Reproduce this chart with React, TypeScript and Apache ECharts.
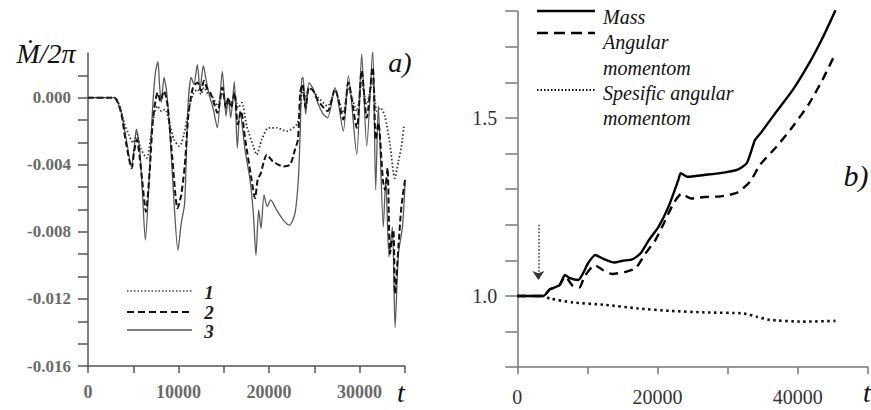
import React, { useEffect, useRef } from "react";
import * as echarts from "echarts";

// ---------- Panel a) data : [t, Mdot/2pi] ----------
const curve1Dotted: [number, number][] = [
  [0, 0], [3000, 0], [3500, -0.0005], [4000, -0.0015], [4500, -0.0022], [5000, -0.0027], [5400, -0.0022],
  [5800, -0.003], [6480, -0.0036], [6900, -0.0025], [7300, -0.001], [7700, -0.0005], [8100, -0.0008],
  [8500, -0.0007], [9000, -0.0015], [9500, -0.0025], [10100, -0.0029], [10600, -0.0022], [11100, -0.0008],
  [11600, 0.0002], [12100, 0.0005], [12500, 0.0002], [12800, 0.0006], [13300, 0.0002], [13800, 0.0],
  [14300, -0.0005], [14850, 0.0003], [15300, -0.0003], [15800, -0.0003], [16200, 0.0], [16600, -0.0006],
  [17000, -0.0003], [17540, -0.0017], [18270, -0.0029], [18630, -0.0034], [19200, -0.0025], [19940, -0.0018],
  [20850, -0.0018], [21950, -0.002], [23060, -0.0016], [23430, -0.0008], [23700, 0.0004], [24050, 0.0],
  [24420, 0.0006], [25000, 0.0003], [25450, 0.0], [26480, -0.0005], [27290, 0.0004], [28210, -0.0009],
  [28770, 0.0005], [29700, -0.0008], [30240, 0.0009], [30800, -0.0004], [31460, 0.001], [31900, -0.0008],
  [32300, -0.0006], [32800, -0.0011], [33370, -0.0028], [33900, -0.0048], [34300, -0.0038], [34630, -0.0029],
  [34930, -0.0016],
];

const curve2Dashed: [number, number][] = [
  [0, 0], [2900, 0], [3300, -0.0003], [3700, -0.001], [4200, -0.0027], [4830, -0.0042], [5100, -0.0032],
  [5400, -0.0025], [5700, -0.0035], [6000, -0.005], [6400, -0.0068], [6800, -0.0045], [7200, -0.0012],
  [7700, 0.0003], [8000, -0.0002], [8400, 0.0004], [8800, -0.0005], [9300, -0.0035], [9900, -0.0066],
  [10300, -0.0058], [10700, -0.004], [11100, -0.001], [11600, 0.0006], [12100, 0.0009], [12500, 0.0004],
  [12800, 0.001], [13200, 0.0005], [13600, 0.0002], [14300, -0.0009], [14850, 0.0006], [15250, -0.0006],
  [15500, 0.0], [15800, -0.0006], [16200, 0.0003], [16550, -0.0016], [16900, -0.0008], [17400, -0.0026],
  [18080, -0.0049], [18450, -0.006], [18750, -0.0049], [19100, -0.0045], [19390, -0.0039], [19750, -0.0034],
  [20420, -0.0038], [21580, -0.0041], [22330, -0.004], [22870, -0.0031], [23200, -0.0025], [23450, 0.0003],
  [23700, 0.0008], [24050, -0.0006], [24420, 0.0006], [24900, 0.0004], [25450, -0.0002], [26480, -0.0008],
  [27290, 0.0005], [28210, -0.0013], [28770, 0.0009], [29700, -0.0018], [30240, 0.0016], [30800, -0.0012],
  [31460, 0.0018], [31800, -0.0025], [32080, -0.0015], [32600, -0.005], [32820, -0.0055], [33100, -0.0042],
  [33370, -0.0093], [33740, -0.0079], [33930, -0.0117], [34300, -0.0089], [34630, -0.0065], [35030, -0.0049],
];

const curve3Solid: [number, number][] = [
  [0, 0], [2900, 0], [3300, -0.0003], [3680, -0.0009], [4240, -0.0025], [4790, -0.0041], [5100, -0.003],
  [5340, -0.0019], [5710, -0.0031], [6000, -0.0055], [6340, -0.0085], [6700, -0.0055], [7000, -0.002],
  [7200, -0.0001], [7450, 0.0015], [7730, 0.00215], [7900, 0.0008], [8100, -0.0003], [8400, 0.0012],
  [8700, 0.0003], [9100, -0.0025], [9500, -0.0062], [9940, -0.0091], [10300, -0.0075], [10680, -0.0063],
  [11050, -0.0005], [11400, 0.0012], [11700, 0.0008], [12080, 0.00196], [12380, 0.0005], [12740, 0.0019],
  [13100, 0.0009], [13480, 0.0], [13850, -0.0007], [14290, -0.0018], [14840, 0.00156], [15250, -0.0011],
  [15500, 0.0], [15770, -0.0012], [16170, 0.00096], [16500, -0.003], [16800, -0.0008], [17350, -0.0031],
  [17900, -0.0049], [18270, -0.0069], [18560, -0.0094], [18860, -0.0067], [19120, -0.0078], [19450, -0.0058],
  [19810, -0.0065], [20180, -0.0061], [20850, -0.0067], [21580, -0.0073], [22250, -0.0076], [22870, -0.0069],
  [23240, -0.0049], [23450, -0.002], [23610, 0.0011], [23760, 0.0012], [24050, -0.001], [24420, 0.0009],
  [24900, 0.0005], [25450, -0.0004], [26000, -0.001], [26480, -0.0012], [27290, 0.0006], [28210, -0.002],
  [28770, 0.0013], [29700, -0.0034], [30240, 0.0026], [30800, -0.0029], [31460, 0.00285], [31790, -0.0055],
  [32080, -0.0005], [32630, -0.0077], [32900, -0.0049], [33260, -0.0095], [33630, -0.0077], [33930, -0.0137],
  [34300, -0.0093], [34750, -0.0077], [35030, -0.0051],
];

const legendALabels = ["1", "2", "3"];

// ---------- Panel b) data : [t, normalized value] ----------
const massCurve: [number, number][] = [
  [0, 1], [3710, 1], [4640, 1.019], [5340, 1.024], [6050, 1.031], [6800, 1.059], [7510, 1.05], [8680, 1.045],
  [9380, 1.064], [10080, 1.092], [11110, 1.115], [12430, 1.103], [13840, 1.094], [15010, 1.099], [16420, 1.103],
  [17580, 1.12], [18750, 1.157], [20150, 1.195], [21560, 1.251], [22960, 1.326], [23300, 1.345], [24280, 1.335],
  [26630, 1.34], [28960, 1.345], [31310, 1.354], [32720, 1.373], [33890, 1.438], [34830, 1.461], [36940, 1.518],
  [39280, 1.579], [41620, 1.654], [43500, 1.724], [45370, 1.803],
];

const angularCurve: [number, number][] = [
  [0, 1], [3710, 1], [4640, 1.019], [5340, 1.024], [6050, 1.031], [6800, 1.055], [7930, 1.028], [8860, 1.024],
  [9560, 1.054], [11010, 1.087], [12190, 1.073], [13600, 1.062], [15470, 1.068], [16880, 1.078], [18280, 1.12],
  [19690, 1.157], [21100, 1.213], [22270, 1.26], [23400, 1.287], [24800, 1.274], [26630, 1.278], [29000, 1.28],
  [31310, 1.29], [33180, 1.321], [34590, 1.368], [36940, 1.419], [39280, 1.476], [41620, 1.541], [43500, 1.607],
  [45370, 1.682],
];

const specificCurve: [number, number][] = [
  [0, 1], [3700, 1], [4600, 0.993], [7880, 0.982], [12570, 0.975], [17250, 0.965], [21940, 0.958],
  [26630, 0.954], [32260, 0.951], [34130, 0.942], [36000, 0.933], [40690, 0.928], [45370, 0.93],
];

const arrowMark: [number, number][] = [[3000, 1.2], [3000, 1.045]];

const legendBLabels = ["Mass", "Angular", "momentom", "Spesific angular", "momentom"];

const SERIF = "Liberation Serif";

const txt = (text: string, x: number, y: number, size: number, italic: boolean, bold: boolean, align: string, fill: string) => {
  const style: any = { text, fontFamily: SERIF, fontSize: size, fill, align, verticalAlign: "middle" };
  if (italic) style.fontStyle = "italic";
  if (bold) style.fontWeight = "bold";
  return { type: "text", x, y, style };
};

// Offset of the right panel's own chart box
const RX = 440;

export default function App() {
  const refA = useRef<HTMLDivElement>(null);
  const refB = useRef<HTMLDivElement>(null);

  useEffect(() => {
    if (!refA.current || !refB.current) return;
    const chartA = echarts.init(refA.current, undefined, { renderer: "svg" });
    const chartB = echarts.init(refB.current, undefined, { renderer: "svg" });
    const yStepA = 0.004 / 3;

    const fmtA = (v: number) => {
      const k = v / 0.004;
      if (Math.abs(k - Math.round(k)) > 1e-3) return "";
      const r = Math.round(k) * 0.004;
      return Math.abs(r) < 1e-9 ? "0.000" : r.toFixed(3);
    };

    chartA.setOption({
      animation: false,
      grid: { left: 88, top: 52.9, width: 316.75, height: 313.1 },
      xAxis: {
        type: "value",
        min: 0,
        max: 35000,
        interval: 5000,
        splitLine: { show: false },
        axisLine: { show: true, onZero: false, lineStyle: { color: "#555", width: 1.5 } },
        axisTick: { show: true, length: 7, lineStyle: { color: "#555", width: 1.5 } },
        axisLabel: {
          margin: 17,
          fontFamily: SERIF,
          fontSize: 18,
          fontWeight: "bold",
          color: "#6a6a6a",
          formatter: (v: number) => (Math.round(v) % 10000 === 0 ? String(Math.round(v)) : ""),
        },
      },
      yAxis: {
        type: "value",
        min: -0.016,
        max: 2 * yStepA,
        interval: yStepA,
        splitLine: { show: false },
        axisLine: { show: true, onZero: false, lineStyle: { color: "#555", width: 1.5 } },
        axisTick: { show: true, length: 10, lineStyle: { color: "#555", width: 1.5 } },
        axisLabel: {
          margin: 17,
          fontFamily: SERIF,
          fontSize: 17,
          fontWeight: "bold",
          color: "#6a6a6a",
          showMaxLabel: false,
          formatter: fmtA,
        },
      },
      series: [
        { name: "3", type: "line", data: curve3Solid, showSymbol: false, smooth: 0.25, lineStyle: { color: "#5a5a5a", width: 1.3 }, z: 2 },
        { name: "2", type: "line", data: curve2Dashed, showSymbol: false, smooth: 0.25, lineStyle: { color: "#111", width: 2, type: [6, 3] }, z: 3 },
        { name: "1", type: "line", data: curve1Dotted, showSymbol: false, smooth: 0.25, lineStyle: { color: "#333", width: 1.8, type: [1.5, 2.2] }, z: 4 },
      ],
      graphic: [
        txt("\u1E40/2\u03C0", 46, 53, 28, true, false, "center", "#111"),
        txt("a)", 400, 62, 28, true, false, "center", "#111"),
        txt("t", 401, 392, 28, true, false, "center", "#111"),
        { type: "line", shape: { x1: 127, y1: 291, x2: 192, y2: 291 }, style: { stroke: "#444", lineWidth: 1.4, lineDash: [1.5, 2] } },
        { type: "line", shape: { x1: 127, y1: 312, x2: 192, y2: 312 }, style: { stroke: "#111", lineWidth: 2, lineDash: [7, 4] } },
        { type: "line", shape: { x1: 127, y1: 330, x2: 192, y2: 330 }, style: { stroke: "#555", lineWidth: 1.6 } },
        ...legendALabels.map((s, i) => txt(s, 209, [292, 312, 331][i], 19, true, true, "center", "#222")),
      ],
    });

    chartB.setOption({
      animation: false,
      grid: { left: 517.3 - RX, top: 11.2, width: 355.5, height: 356 },
      xAxis: {
        type: "value",
        min: 0,
        max: 50000,
        interval: 10000,
        splitLine: { show: false },
        axisLine: { show: true, onZero: false, lineStyle: { color: "#777", width: 1.5 } },
        axisTick: { show: true, length: 7, lineStyle: { color: "#777", width: 1.5 } },
        axisLabel: {
          margin: 20,
          fontFamily: SERIF,
          fontSize: 20,
          color: "#333",
          formatter: (v: number) => (Math.round(v) % 20000 === 0 ? String(Math.round(v)) : ""),
        },
      },
      yAxis: {
        type: "value",
        min: 0.8,
        max: 1.8,
        interval: 0.1,
        splitLine: { show: false },
        axisLine: { show: true, onZero: false, lineStyle: { color: "#777", width: 1.5 } },
        axisTick: { show: true, length: 12, lineStyle: { color: "#777", width: 1.5 } },
        axisLabel: {
          margin: 20,
          fontFamily: SERIF,
          fontSize: 20,
          color: "#333",
          formatter: (v: number) => (Math.abs(v - 1) < 1e-6 ? "1.0" : Math.abs(v - 1.5) < 1e-6 ? "1.5" : ""),
        },
      },
      series: [
        { name: "Mass", type: "line", data: massCurve, showSymbol: false, smooth: 0.2, lineStyle: { color: "#000", width: 2.4 } },
        { name: "Angular momentom", type: "line", data: angularCurve, showSymbol: false, smooth: 0.2, lineStyle: { color: "#000", width: 2.4, type: [9, 6] } },
        {
          name: "Spesific angular momentom",
          type: "line",
          data: specificCurve,
          showSymbol: false,
          smooth: 0.2,
          lineStyle: { color: "#111", width: 2.6, type: [2.5, 3.5] },
          markLine: {
            silent: true,
            symbol: ["none", "arrow"],
            symbolSize: 9,
            label: { show: false },
            lineStyle: { color: "#333", width: 1.5, type: [1.5, 2] },
            data: [[{ coord: arrowMark[0] }, { coord: arrowMark[1] }]],
          },
        },
      ],
      graphic: [
        txt("b)", 856 - RX, 175, 30, true, false, "center", "#111"),
        txt("t", 867 - RX, 392, 28, true, false, "center", "#111"),
        { type: "line", shape: { x1: 537 - RX, y1: 11, x2: 595 - RX, y2: 11 }, style: { stroke: "#000", lineWidth: 2.6 } },
        { type: "line", shape: { x1: 537 - RX, y1: 33, x2: 595 - RX, y2: 33 }, style: { stroke: "#000", lineWidth: 2.6, lineDash: [11, 6] } },
        { type: "line", shape: { x1: 537 - RX, y1: 90, x2: 595 - RX, y2: 90 }, style: { stroke: "#111", lineWidth: 1.8, lineDash: [1.5, 2] } },
        ...legendBLabels.map((s, i) => txt(s, 603 - RX, [17, 42, 68, 93, 118][i], 20, true, false, "left", "#111")),
      ],
    });

    return () => {
      chartA.dispose();
      chartB.dispose();
    };
  }, []);

  return (
    <div style={{ position: "absolute", left: 0, top: 0, width: 871, height: 410, overflow: "hidden" }}>
      <div ref={refA} style={{ position: "absolute", left: 0, top: 0, width: RX, height: 410 }} />
      <div ref={refB} style={{ position: "absolute", left: RX, top: 0, width: 871 - RX, height: 410 }} />
    </div>
  );
}
